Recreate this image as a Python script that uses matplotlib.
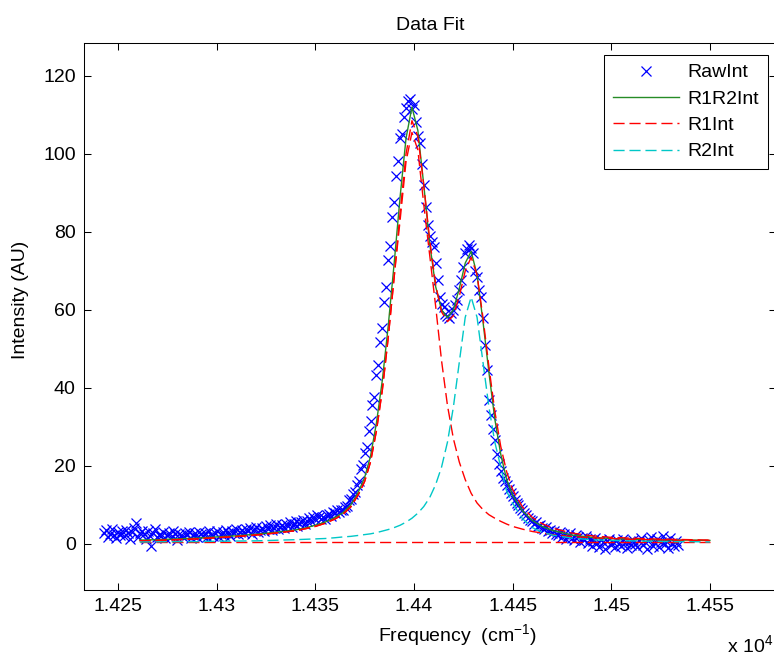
import numpy as np
import matplotlib
matplotlib.use('Agg')
import matplotlib.pyplot as plt

# raw spectrum, 1 cm-1 grid starting at 14243 cm-1
raw_start = 14243.0
raw_int = [
    2.8, 3.5, 1.9, 2.6, 3.9, 2.2, 1.6, 3.1, 2.4, 3.3,
    2.0, 3.6, 2.7, 1.4, 3.0, 4.1, 5.4, 1.8, 2.9, 3.4,
    2.6, 1.2, 3.2, 2.1, -0.5, 2.7, 3.8, 1.7, 2.4, 2.0,
    3.0, 1.5, 2.2, 2.8, 1.9, 3.3, 2.5, 1.1, 2.6, 2.3,
    1.8, 2.9, 2.4, 3.1, 1.6, 2.2, 2.7, 1.9, 3.0, 2.5,
    2.1, 2.8, 1.7, 3.2, 2.4, 2.0, 2.9, 3.4, 1.8, 2.6,
    3.1, 2.3, 3.6, 2.7, 2.0, 3.3, 2.9, 3.8, 2.5, 3.0,
    3.5, 2.8, 3.9, 3.2, 4.1, 2.6, 3.7, 4.4, 3.0, 3.6,
    4.0, 3.3, 4.6, 3.8, 4.9, 3.5, 4.2, 5.0, 3.9, 4.4,
    4.8, 4.1, 5.2, 4.5, 5.6, 4.3, 5.0, 5.9, 4.7, 5.3,
    5.6, 6.2, 5.1, 6.0, 6.6, 5.8, 6.9, 6.3, 7.4, 6.8,
    6.4, 6.9, 6.5, 7.3, 7.6, 7.2, 8.1, 7.9, 8.6, 8.3,
    8.8, 8.7, 9.6, 9.8, 11.3, 11.5, 12.9, 13.3, 15.2, 16.1,
    19.3, 20.2, 23.4, 24.8, 28.9, 31.5, 35.6, 37.8, 43.2, 46.0,
    51.9, 55.4, 62.1, 65.8, 72.9, 76.5, 83.8, 87.6, 94.3, 98.1,
    104.0, 105.2, 109.5, 111.8, 113.5, 114.0, 111.4, 112.6, 108.2, 104.7,
    102.8, 97.5, 92.0, 86.4, 81.8, 79.0, 77.5, 76.0, 72.0, 67.7,
    63.4, 61.5, 60.8, 59.0, 58.5, 57.9, 59.2, 60.0, 61.3, 62.6,
    65.0, 67.7, 71.0, 74.6, 75.5, 76.7, 75.8, 74.6, 70.0, 68.5,
    65.0, 63.4, 58.0, 51.0, 44.5, 37.0, 33.0, 29.5, 26.7, 23.0,
    20.5, 18.6, 17.0, 16.2, 15.0, 14.1, 13.0, 12.2, 11.3, 10.6,
    10.0, 9.2, 8.6, 7.9, 7.5, 6.7, 6.2, 5.9, 5.2, 5.6,
    4.6, 4.9, 4.1, 3.8, 4.4, 3.2, 3.5, 2.9, 3.4, 2.6,
    2.2, 3.0, 1.8, 2.5, 1.4, 2.1, 2.8, 1.6, 1.1, 2.3,
    1.9, 0.6, 1.5, 0.9, 2.0, 0.2, 1.2, -0.4, 0.8, 1.6,
    0.3, -0.8, 1.0, 0.4, -1.2, 0.7, 1.3, -0.2, 0.5, -0.9,
    0.9, 0.1, -0.6, 1.4, 0.2, -1.0, 0.6, -0.3, 1.1, 0.0,
    -0.7, 0.8, 1.6, -0.2, 0.4, -1.3, 0.9, 1.8, -0.5, 0.3,
    1.2, -0.8, 0.6, 2.0, -0.1, 0.7, -1.1, 1.5, 0.2, -0.4,
    0.8, -0.2,
]
raw_freq = raw_start + np.arange(len(raw_int))

# fitted curves
fit_freq = [
    14261, 14270, 14280, 14290, 14300, 14310, 14320, 14330, 14340, 14345,
    14350, 14355, 14360, 14364, 14368, 14372, 14375, 14378, 14381, 14384,
    14387, 14390, 14393, 14396, 14399, 14402, 14405, 14408, 14411, 14414,
    14417, 14420, 14423, 14426, 14429, 14432, 14435, 14438, 14441, 14444,
    14447, 14450, 14455, 14460, 14465, 14470, 14480, 14490, 14500, 14510,
    14520, 14530, 14540, 14550,
]
r1r2_int = [
    1.0, 1.1, 1.3, 1.5, 1.8, 2.1, 2.5, 3.0, 3.6, 4.1,
    4.8, 5.6, 6.8, 8.0, 10.0, 13.5, 17.0, 22.5, 31.0, 42.0,
    56.0, 72.0, 89.0, 104.0, 112.0, 106.0, 92.0, 77.0, 66.0, 60.0,
    58.0, 60.0, 65.5, 72.0, 75.0, 69.0, 57.0, 44.0, 32.0, 23.0,
    16.5, 12.5, 8.5, 6.0, 4.5, 3.5, 2.3, 1.7, 1.4, 1.2,
    1.1, 1.0, 1.0, 0.9,
]
r1_int = [
    0.8, 0.9, 1.1, 1.3, 1.6, 1.9, 2.3, 2.8, 3.4, 3.9,
    4.5, 5.3, 6.4, 7.6, 9.5, 12.8, 16.0, 21.0, 29.0, 39.5,
    53.0, 68.5, 83.0, 98.0, 105.5, 101.0, 87.0, 74.0, 61.0, 47.0,
    35.5, 27.0, 21.0, 16.5, 13.0, 10.5, 8.8, 7.5, 6.6, 5.8,
    5.1, 4.5, 3.8, 3.2, 2.8, 2.4, 1.9, 1.6, 1.4, 1.2,
    1.1, 1.0, 0.9, 0.9,
]
r1_sum_int = [
    0.8, 0.9, 1.1, 1.3, 1.6, 1.9, 2.3, 2.8, 3.4, 3.9,
    4.5, 5.3, 6.4, 7.6, 9.5, 12.8, 16.0, 21.0, 29.0, 39.5,
    53.0, 68.5, 85.0, 100.0, 108.5, 104.5, 92.0, 78.0, 66.5, 59.5,
    57.0, 58.5, 63.5, 70.0, 73.5, 69.0, 58.0, 45.5, 34.0, 25.0,
    18.5, 14.0, 9.5, 6.8, 5.2, 4.1, 2.8, 2.1, 1.7, 1.5,
    1.3, 1.2, 1.1, 1.0,
]
r1_base_freq = [14261, 14550]
r1_base_int = [0.6, 0.6]
r2_int = [
    0.5, 0.55, 0.6, 0.6, 0.7, 0.75, 0.8, 0.95, 1.1, 1.2,
    1.3, 1.4, 1.6, 1.8, 1.95, 2.2, 2.4, 2.6, 2.9, 3.3,
    3.7, 4.2, 4.8, 5.6, 6.6, 7.9, 9.6, 11.9, 15.2, 19.7,
    26.1, 35.1, 46.6, 58.1, 63.3, 58.1, 46.6, 35.1, 26.1, 19.7,
    13.5, 10.5, 6.5, 4.2, 3.0, 2.3, 1.5, 1.1, 0.9, 0.8,
    0.7, 0.6, 0.6, 0.5,
]

x_ticks = [14250, 14300, 14350, 14400, 14450, 14500, 14550]
y_ticks = [0, 20, 40, 60, 80, 100, 120]

plt.rcParams['font.family'] = ['Liberation Sans', 'DejaVu Sans']
plt.rcParams['mathtext.fontset'] = 'custom'
plt.rcParams['mathtext.rm'] = 'Liberation Sans'
plt.rcParams['mathtext.default'] = 'regular'

fig = plt.figure(figsize=(7.74, 6.56), dpi=100)
ax = fig.add_axes([84 / 774, 66 / 656, 692 / 774, 547.3 / 656])

green = (0.15, 0.55, 0.15)
dash = (0, (8, 3.5))
h_raw, = ax.plot(raw_freq, raw_int, 'x', color='b', ms=7, mew=0.9)
h_fit, = ax.plot(fit_freq, r1r2_int, '-', color=green, lw=1)
h_r1, = ax.plot(fit_freq, r1_int, color='r', ls=dash, lw=1)
ax.plot(fit_freq, r1_sum_int, color='r', ls=dash, lw=1)
ax.plot(r1_base_freq, r1_base_int, color='r', ls=dash, lw=1)
h_r2, = ax.plot(fit_freq, r2_int, color=(0, 0.78, 0.78), ls=dash, lw=1)

ax.set_xlim(14232.8, 14583.5)
ax.set_ylim(-11.8, 128.5)
ax.set_xticks(x_ticks)
ax.set_xticklabels(['%g' % (t / 1e4) for t in x_ticks])
ax.set_yticks(y_ticks)
ax.tick_params(direction='in', top=True, right=True, length=5, width=0.75,
               labelsize=14, pad=6)
for s in ax.spines.values():
    s.set_linewidth(0.75)

ax.set_title('Data Fit', fontsize=14, pad=9)
ax.set_xlabel('Frequency  (cm$^{-1}$)', fontsize=14)
ax.xaxis.set_label_coords((457 - 84) / 692, -0.058)
ax.set_ylabel('Intensity (AU)', fontsize=14)
ax.yaxis.set_label_coords(-0.08, 0.53)
fig.text(727 / 774, 0.006, 'x 10$^4$', fontsize=14, ha='left', va='baseline')

leg = ax.legend([h_raw, h_fit, h_r1, h_r2], ['RawInt', 'R1R2Int', 'R1Int', 'R2Int'],
                loc='upper right', bbox_to_anchor=(0.9884, 0.9775), borderaxespad=0,
                fontsize=14, frameon=True, fancybox=False, edgecolor='k',
                framealpha=1, handlelength=3.4, handletextpad=0.45,
                labelspacing=0.45, borderpad=0.45)
leg.get_frame().set_linewidth(0.75)

fig.savefig('out.png', dpi=100)
